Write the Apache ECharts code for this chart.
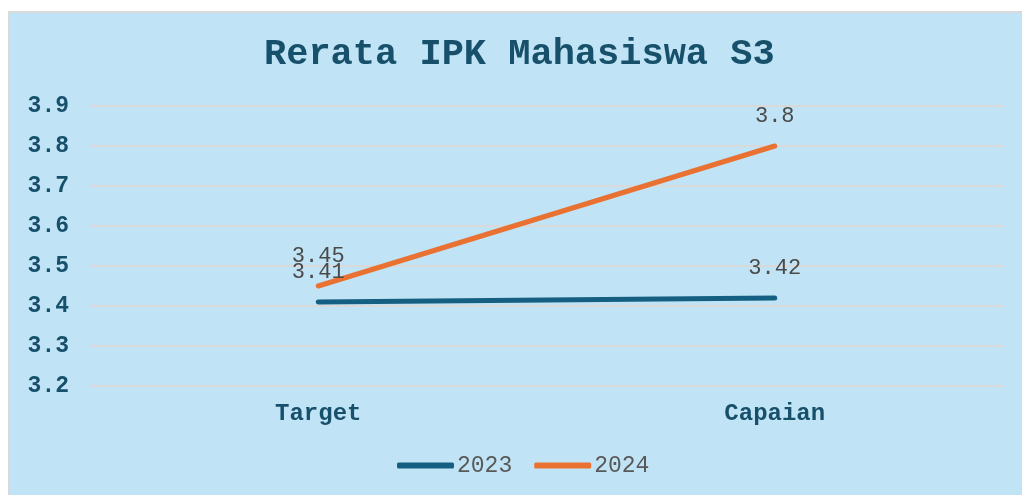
<!DOCTYPE html>
<html>
<head>
<meta charset="utf-8">
<script src="https://cdn.jsdelivr.net/npm/echarts@6/dist/echarts.min.js"></script>
<style>
html,body{margin:0;padding:0;background:#fff;}
#panel{position:absolute;left:8px;top:11px;right:0;bottom:0;background:#C0E4F5;border-top:2px solid #D9D9D9;border-left:2px solid #D9D9D9;}
#container{position:absolute;left:0;top:0;width:1022px;height:495px;}
</style>
</head>
<body>
<div id="panel"></div>
<div id="container"></div>
<script>
var categories = ['Target', 'Capaian'];
var seriesNames = ['2023', '2024'];
var values2023 = [3.41, 3.42];
var values2024 = [3.45, 3.8];
var yTicks = [3.2, 3.3, 3.4, 3.5, 3.6, 3.7, 3.8, 3.9];

var mono = "'Courier New', 'Liberation Mono', monospace";
var colors = ['#156082', '#E97132'];

function makeSeries(name, data, color){
	return {
		name: name,
		type: 'line',
		data: data,
		symbol: 'circle',
		symbolSize: 1,
		itemStyle: {color: color},
		lineStyle: {color: color, width: 5, cap: 'round'},
		label: {
			show: true,
			position: 'top',
			distance: 18,
			color: '#4a4a4a',
			fontFamily: mono,
			fontSize: 22
		}
	};
}

var chart = echarts.init(document.getElementById('container'));
chart.setOption({
	animation: false,
	title: {
		text: 'Rerata IPK Mahasiswa S3',
		left: 259,
		top: 31,
		textStyle: {fontFamily: mono, fontWeight: 'bold', fontSize: 37, color: '#17506B'}
	},
	legend: {
		data: seriesNames,
		bottom: 13,
		left: 392,
		icon: 'roundRect',
		itemWidth: 57,
		itemHeight: 6,
		itemGap: 22,
		textStyle: {fontFamily: mono, fontSize: 23, color: '#595959', padding: [0, 0, 0, -2]}
	},
	color: colors,
	grid: {left: 90, right: 19, top: 106, bottom: 109},
	xAxis: {
		type: 'category',
		data: categories,
		axisLine: {show: false},
		axisTick: {show: false},
		axisLabel: {fontFamily: mono, fontWeight: 'bold', fontSize: 24, color: '#17506B', margin: 16}
	},
	yAxis: {
		type: 'value',
		min: yTicks[0],
		max: yTicks[yTicks.length - 1],
		interval: 0.1,
		axisLine: {show: false},
		axisTick: {show: false},
		splitLine: {lineStyle: {color: '#D9D9D9', width: 2}},
		axisLabel: {
			fontFamily: mono, fontWeight: 'bold', fontSize: 23, color: '#17506B', margin: 21,
			formatter: function(v){ return v.toFixed(1); }
		}
	},
	series: [
		makeSeries(seriesNames[0], values2023, colors[0]),
		makeSeries(seriesNames[1], values2024, colors[1])
	]
});
</script>
</body>
</html>
